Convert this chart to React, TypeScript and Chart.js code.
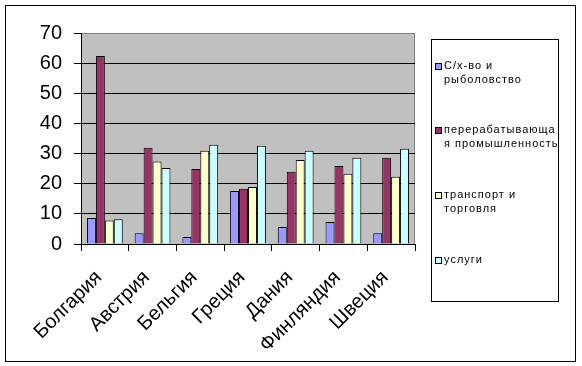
import React, { useEffect, useRef } from 'react';
import { Chart, registerables } from 'chart.js';

Chart.register(...registerables);

const categories = ['Болгария', 'Австрия', 'Бельгия', 'Греция', 'Дания', 'Финляндия', 'Швеция'];
const legendLines = [
  ['С/х-во и', 'рыболовство'],
  ['перерабатывающа', 'я промышленность'],
  ['транспорт и', 'торговля'],
  ['услуги'],
];
const seriesNames = ['С/х-во и рыболовство', 'перерабатывающая промышленность', 'транспорт и торговля', 'услуги'];
const agriculture = [8.6, 3.6, 2.3, 17.6, 5.6, 7.3, 3.6];
const manufacturing = [62.4, 31.9, 24.9, 18.3, 24.0, 25.9, 28.6];
const transportTrade = [7.8, 27.4, 30.9, 18.9, 27.9, 23.3, 22.3];
const services = [8.2, 25.2, 32.9, 32.6, 30.9, 28.6, 31.6];
const seriesColors = ['#9999FF', '#993366', '#FFFFCC', '#CCFFFF'];
const yMin = 0;
const yMax = 70;
const yStep = 10;

const FONT = '"Liberation Sans", Arial, sans-serif';

const decorPlugin = {
  id: 'decor',
  beforeDraw(chart: any) {
    const { ctx, chartArea } = chart;
    ctx.save();
    ctx.fillStyle = '#FFFFFF';
    ctx.fillRect(0, 0, chart.width, chart.height);
    ctx.fillStyle = '#C0C0C0';
    ctx.fillRect(chartArea.left, chartArea.top, chartArea.right - chartArea.left, chartArea.bottom - chartArea.top);
    ctx.strokeStyle = '#808080';
    ctx.lineWidth = 1;
    ctx.strokeRect(Math.round(chartArea.left) + 0.5, Math.round(chartArea.top) + 0.5,
      Math.round(chartArea.right - chartArea.left) - 1, Math.round(chartArea.bottom - chartArea.top));
    ctx.restore();
  },
  afterDraw(chart: any) {
    const { ctx } = chart;
    ctx.save();
    ctx.strokeStyle = '#000';
    ctx.lineWidth = 1;
    ctx.strokeRect(5.5, 5.5, 570, 356);
    // legend box
    ctx.strokeRect(431.5, 39.5, 127, 262);
    const firstY = [66, 130, 195, 260];
    ctx.font = '11px ' + FONT;
    (ctx as any).letterSpacing = '1px';
    ctx.textBaseline = 'middle';
    ctx.textAlign = 'left';
    chart.data.datasets.forEach((ds: any, i: number) => {
      const y = firstY[i];
      ctx.fillStyle = ds.backgroundColor;
      ctx.fillRect(435, y - 3, 7, 7);
      ctx.strokeStyle = '#000';
      ctx.strokeRect(435.5, y - 2.5, 6, 6);
      ctx.fillStyle = '#000';
      legendLines[i].forEach((line, j) => {
        ctx.fillText(line, 444, y + j * 14);
      });
    });
    ctx.restore();
  },
};

export default function App() {
  const ref = useRef<HTMLCanvasElement>(null);
  useEffect(() => {
    if (!ref.current) return;
    const datasets = [agriculture, manufacturing, transportTrade, services].map((d, i) => ({
      label: seriesNames[i],
      data: d,
      backgroundColor: seriesColors[i],
      borderColor: '#000',
      borderWidth: 1,
      categoryPercentage: 0.75,
      barPercentage: 1,
    }));
    const chart = new Chart(ref.current, {
      type: 'bar',
      data: { labels: categories, datasets },
      options: {
        animation: false,
        responsive: false,
        devicePixelRatio: 1,
        layout: { padding: { left: 0, top: 33, right: 167, bottom: 0 } },
        plugins: { legend: { display: false }, tooltip: { enabled: false } },
        scales: {
          x: {
            grid: { offset: true, drawOnChartArea: false, drawTicks: true, tickLength: 7, tickColor: '#000', color: '#000' },
            border: { display: true, color: '#000' },
            ticks: { color: '#000', font: { family: FONT, size: 20 }, minRotation: 45, maxRotation: 45, padding: 15, labelOffset: -6 },
            afterFit: (s: any) => { s.height = 122; },
          },
          y: {
            min: yMin,
            max: yMax,
            grid: {
              color: (c: any) => (c.tick && c.tick.value === yMax ? '#808080' : '#000'),
              tickColor: '#000',
              tickLength: 7,
              drawTicks: true,
            },
            border: { display: true, color: '#000' },
            ticks: { stepSize: yStep, color: '#000', font: { family: FONT, size: 20 }, padding: 12 },
            afterFit: (s: any) => { s.width = 81; },
          },
        },
      },
      plugins: [decorPlugin],
    });
    return () => chart.destroy();
  }, []);
  return (
    <div style={{ position: 'fixed', left: 0, top: 0, width: 582, height: 366 }}>
      <canvas ref={ref} width={582} height={366} style={{ width: 582, height: 366, display: 'block' }} />
    </div>
  );
}
